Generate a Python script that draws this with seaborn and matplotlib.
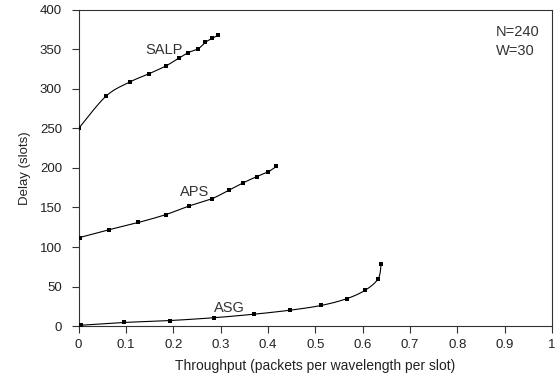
import numpy as np
import pandas as pd
import seaborn as sns
import matplotlib
matplotlib.use("Agg")
import matplotlib.pyplot as plt

# values
salp_x = [0.0, 0.058, 0.109, 0.148, 0.184, 0.212, 0.232, 0.253, 0.268, 0.282, 0.295]
salp_y = [250, 291, 309, 319, 329, 339, 346, 351, 359, 364, 368]

aps_x = [0.002, 0.065, 0.126, 0.184, 0.234, 0.281, 0.318, 0.347, 0.376, 0.400, 0.418]
aps_y = [112, 122, 131, 141, 152, 161, 172, 181, 189, 195, 202]

asg_x = [0.004, 0.095, 0.194, 0.285, 0.371, 0.446, 0.512, 0.566, 0.606, 0.633, 0.639]
asg_y = [1, 4.5, 7, 10.5, 15, 20, 26, 34.5, 45.5, 60, 78]

x_ticks = [0, 0.1, 0.2, 0.3, 0.4, 0.5, 0.6, 0.7, 0.8, 0.9, 1]
x_ticklabels = ["0", "0.1", "0.2", "0.3", "0.4", "0.5", "0.6", "0.7", "0.8", "0.9", "1"]
y_ticks = [0, 50, 100, 150, 200, 250, 300, 350, 400]

series = {"SALP": (salp_x, salp_y), "APS": (aps_x, aps_y), "ASG": (asg_x, asg_y)}

df = pd.concat([pd.DataFrame({"x": xs, "y": ys, "s": k}) for k, (xs, ys) in series.items()])


def smooth(xs, ys, n=20):
    # Catmull-Rom through the points, like a spreadsheet's smoothed line
    p = np.column_stack([np.asarray(xs) * 400, ys])  # roughly equal scale
    p = np.vstack([p[0], p, p[-1]])
    out = []
    for i in range(1, len(p) - 2):
        p0, p1, p2, p3 = p[i - 1], p[i], p[i + 1], p[i + 2]
        t = np.linspace(0, 1, n)[:, None]
        seg = 0.5 * (2 * p1 + (-p0 + p2) * t + (2 * p0 - 5 * p1 + 4 * p2 - p3) * t ** 2
                     + (-p0 + 3 * p1 - 3 * p2 + p3) * t ** 3)
        out.append(seg)
    out = np.vstack(out)
    return out[:, 0] / 400, out[:, 1]


sns.set_style("ticks")
plt.rcParams["font.family"] = ["Liberation Sans", "DejaVu Sans"]

fig = plt.figure(figsize=(5.58, 3.8), dpi=100)
ax = fig.add_axes([0.141, 0.142, 0.848, 0.832])

for k, (xs, ys) in series.items():
    sx, sy = smooth(xs, ys)
    ax.plot(sx, sy, color="black", linewidth=0.8)

sns.scatterplot(data=df, x="x", y="y", color="black", marker="s", s=7,
                linewidth=0, ax=ax, legend=False, zorder=3)

ax.set_xlim(0, 1)
ax.set_ylim(0, 400)
ax.set_xticks(x_ticks)
ax.set_xticklabels(x_ticklabels)
ax.set_yticks(y_ticks)
ax.tick_params(labelsize=9.5, length=5, width=0.8, colors="#333333", labelcolor="#222222")
ax.tick_params(axis="x", pad=4)
ax.tick_params(axis="y", pad=7)
for sp in ax.spines.values():
    sp.set_color("#333333")
    sp.set_linewidth(0.8)

ax.set_xlabel("Throughput (packets per wavelength per slot)", fontsize=10, color="#222222", labelpad=6)
ax.set_ylabel("Delay (slots)", fontsize=9.5, color="#222222", labelpad=6)

ax.text(0.14, 349, "SALP", fontsize=10.5, color="#333333", va="center")
ax.text(0.215, 170, "APS", fontsize=10.5, color="#333333", va="center")
ax.text(0.285, 23, "ASG", fontsize=10.5, color="#333333", va="center")
ax.text(0.881, 372, "N=240", fontsize=10.5, color="#333333", va="center")
ax.text(0.881, 348, "W=30", fontsize=10.5, color="#333333", va="center")

fig.savefig("out.png", dpi=100)
